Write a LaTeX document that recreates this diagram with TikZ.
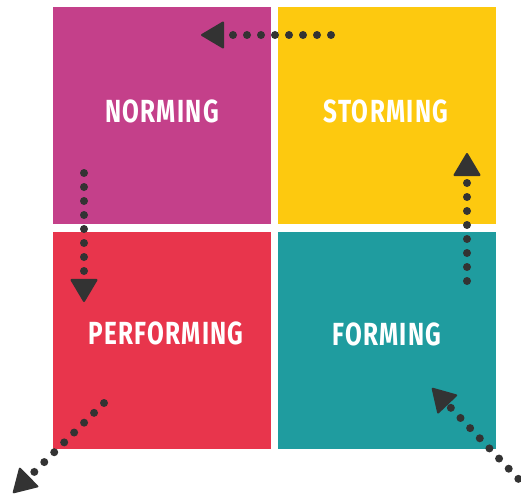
\documentclass[tikz,border=0pt]{standalone}
\usepackage{fontspec}
\newfontfamily\labelfont{Fira Sans}[FakeStretch=0.76,LetterSpace=4]
\usetikzlibrary{arrows.meta}
\definecolor{cmag}{HTML}{C4408A}
\definecolor{cyel}{HTML}{FDC90F}
\definecolor{cred}{HTML}{E8354C}
\definecolor{cteal}{HTML}{1F9C9F}
\definecolor{cdark}{HTML}{333333}
\tikzset{
  quad/.style={draw=none, minimum width=218pt, minimum height=217pt, inner sep=0pt, anchor=north west},
  lbl/.style={text=white, font=\labelfont\bfseries\fontsize{32}{32}\selectfont, inner sep=0pt},
  dotarrow/.style={draw=cdark, line width=8pt, line cap=round, dash pattern=on 0pt off 14pt,
    -{Triangle[length=24pt,width=28pt,line width=2pt,round]}}
}
\begin{document}
\begin{tikzpicture}[x=1pt,y=-1pt]
\useasboundingbox (0,0) rectangle (521,497);
\node[quad, fill=cmag] (norming) at (53,7) {};
\node[quad, fill=cyel] (storming) at (278,7) {};
\node[quad, fill=cred] (performing) at (53,232) {};
\node[quad, fill=cteal] (forming) at (278,232) {};
\node[lbl] (tnorming) at (162,111) {NORMING};
\node[lbl] (tstorming) at (386,111) {STORMING};
\node[lbl] (tperforming) at (166,333) {PERFORMING};
\node[lbl] (tforming) at (387,334) {FORMING};
\coordinate (a1s) at (331,35);
\coordinate (a1e) at (201,35);
\coordinate (a2s) at (84,173);
\coordinate (a2e) at (84,302);
\coordinate (a3s) at (467,281);
\coordinate (a3e) at (467,153);
\coordinate (a4s) at (104,403);
\coordinate (a4e) at (13,493);
\coordinate (a5s) at (528,489);
\coordinate (a5e) at (432,388);
\draw[dotarrow] (a1s) -- (a1e);
\draw[dotarrow] (a2s) -- (a2e);
\draw[dotarrow] (a3s) -- (a3e);
\draw[dotarrow] (a4s) -- (a4e);
\draw[dotarrow] (a5s) -- (a5e);
\end{tikzpicture}
\end{document}
